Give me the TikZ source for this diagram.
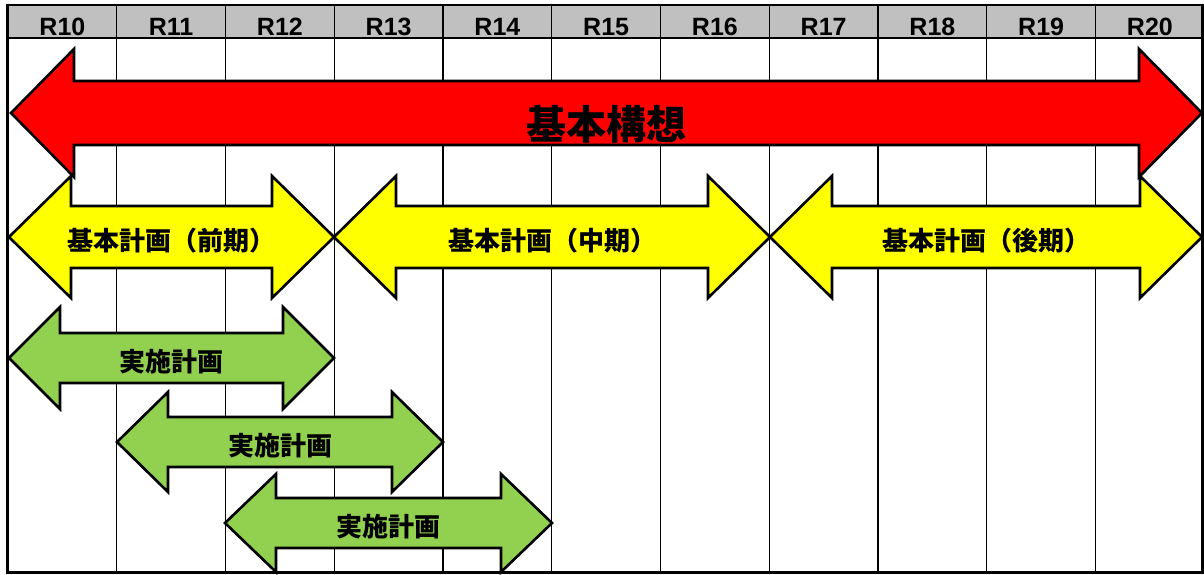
\documentclass[tikz,border=0pt]{standalone}
\usepackage{fontspec}
\setmainfont{Liberation Sans}
\newfontfamily\jp{Noto Sans CJK JP}
\usepackage{tikz}
\usetikzlibrary{calc}
\definecolor{hdgray}{HTML}{C0C0C0}
\definecolor{planred}{HTML}{FF0000}
\definecolor{planyellow}{HTML}{FFFF00}
\definecolor{plangreen}{HTML}{92D050}

% #1 path style, #2 node options, #3 left tip, #4 right tip, #5 centre y,
% #6 shaft half, #7 head half, #8 head length, #9 text
\newcommand{\planarrow}[9]{%
  \draw[#1] (#3,#5) -- (#3+#8,#5-#7) -- (#3+#8,#5-#6) -- (#4-#8,#5-#6)
    -- (#4-#8,#5-#7) -- (#4,#5) -- (#4-#8,#5+#7) -- (#4-#8,#5+#6)
    -- (#3+#8,#5+#6) -- (#3+#8,#5+#7) -- cycle;
  \node[arrowtext, #2] at ({(#3+#4)/2},#5) {#9};
}

\begin{document}
\begin{tikzpicture}[
    x=1pt, y=-1pt,
    gridline/.style={draw=black, line width=1.2pt},
    frameline/.style={draw=black, line width=2.4pt},
    yearlabel/.style={font=\bfseries\fontsize{25}{25}\selectfont, anchor=base, inner sep=0pt},
    outline/.style={draw=black, line width=2.6pt, line join=miter},
    arrowtext/.style={font=\jp\bfseries\fontsize{26}{26}\selectfont, inner sep=0pt, yshift=-4pt}
]
\useasboundingbox (0,0) rectangle (1204,574);

% 見出し行
\fill[hdgray] (8,5) rectangle (1203,38);
\foreach \i in {0,...,10}{
  \pgfmathtruncatemacro\yr{10+\i}
  \node[yearlabel] (hd\i) at ({8+108.75*\i+54.4},35) {R\yr};
}
\foreach \i in {1,...,10}
  \draw[gridline] ({8+108.75*\i},5) -- ({8+108.75*\i},573);
\draw[line width=2pt] (8,38) -- (1203,38);
\draw[frameline] (7.5,5) -- (1202.5,5) -- (1202.5,572.5) -- (7.5,572.5) -- cycle;

% 基本構想
\planarrow{outline, fill=planred}{name=koso, yshift=-7pt, font=\jp\bfseries\fontsize{40}{40}\selectfont}%
  {11}{1202}{113}{32}{64}{63}{基本構想}

% 基本計画
\planarrow{outline, fill=planyellow}{name=keikaku1}{9}{334}{237}{31}{61}{62}{基本計画（前期）}
\planarrow{outline, fill=planyellow}{name=keikaku2}{334}{770}{237}{31}{61}{62}{基本計画（中期）}
\planarrow{outline, fill=planyellow}{name=keikaku3}{770}{1202}{237}{31}{61}{62}{基本計画（後期）}

% 実施計画
\planarrow{outline, fill=plangreen}{name=jisshi1}{9}{334}{358}{25}{51}{51}{実施計画}
\planarrow{outline, fill=plangreen}{name=jisshi2}{117}{443}{442}{25}{50}{51}{実施計画}
\planarrow{outline, fill=plangreen}{name=jisshi3}{225}{552}{523}{25}{49}{51}{実施計画}

\end{tikzpicture}
\end{document}
